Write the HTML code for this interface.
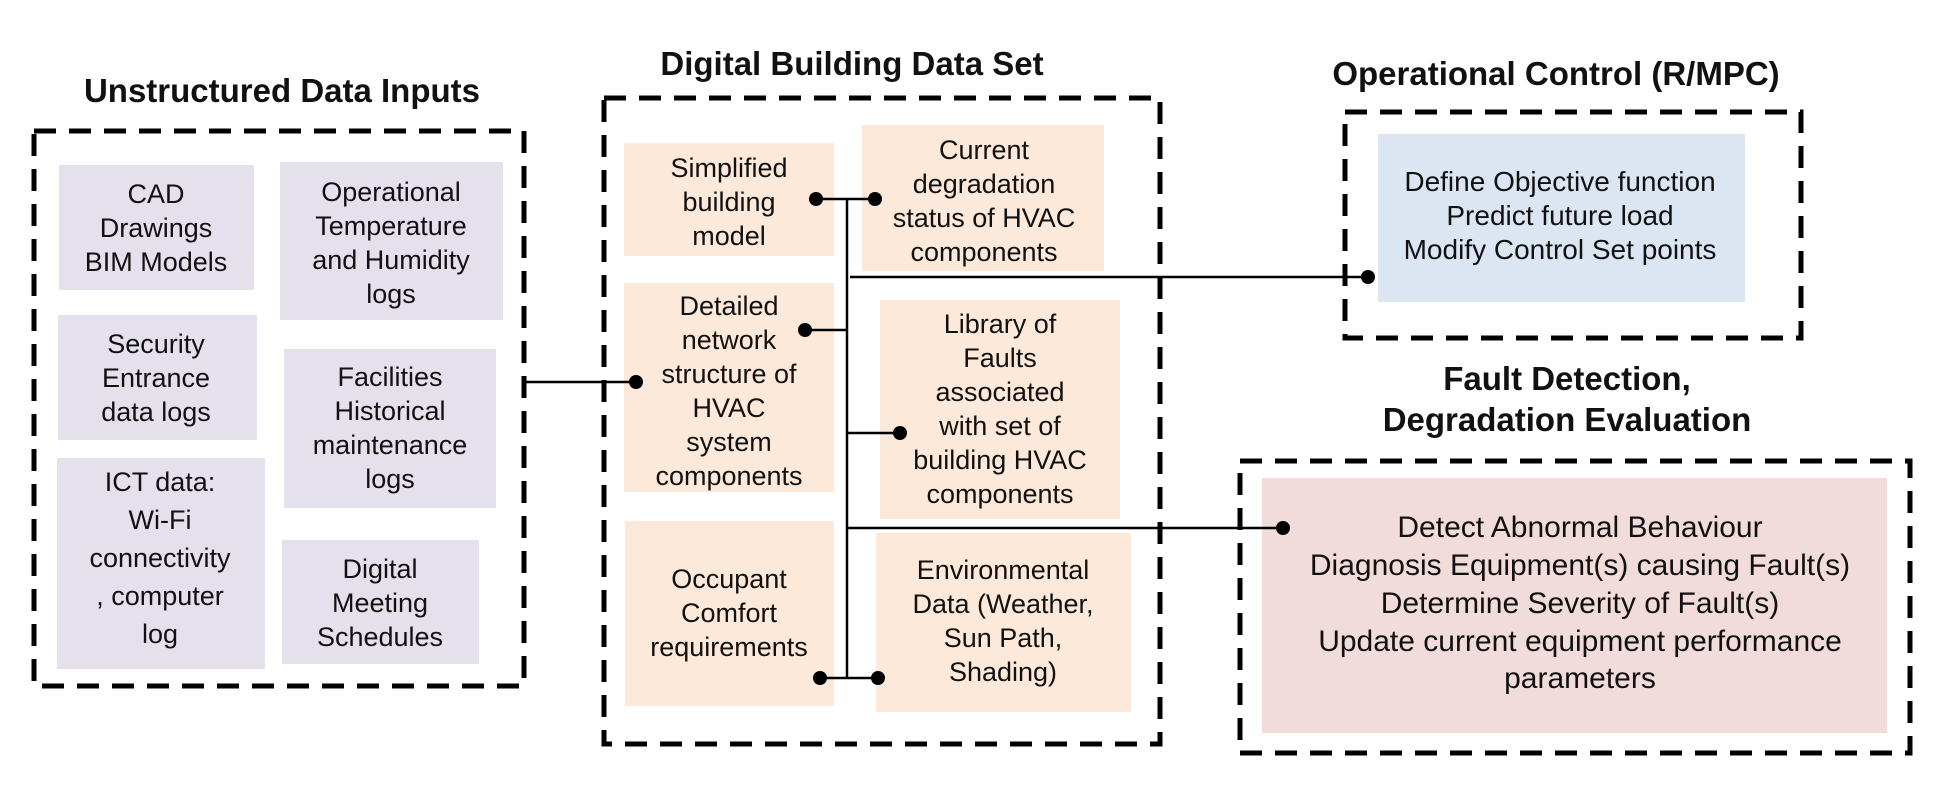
<!DOCTYPE html>
<html><head><meta charset="utf-8"><style>
html,body{margin:0;padding:0;background:#fff;}
svg{display:block;}
text{font-family:"Liberation Sans",Arial,sans-serif;fill:#111;}
.t{font-size:27px;text-anchor:middle;}
.p{font-size:30px;text-anchor:middle;}
.b{font-size:28px;text-anchor:middle;}
.h{font-size:33px;font-weight:bold;text-anchor:middle;}
.d{fill:none;stroke:#000;stroke-width:5;stroke-dasharray:22 13;}
.l{stroke:#000;stroke-width:2.5;}
</style></head><body>
<svg width="1934" height="794" viewBox="0 0 1934 794">
<!-- titles -->
<text class="h" x="282" y="102">Unstructured  Data Inputs</text>
<text class="h" x="852" y="75">Digital Building Data Set</text>
<text class="h" x="1556" y="85">Operational Control (R/MPC)</text>
<text class="h" x="1567" y="390">Fault Detection,</text>
<text class="h" x="1567" y="431">Degradation Evaluation</text>

<!-- dashed containers -->
<rect class="d" x="34" y="131" width="490" height="555"/>
<rect class="d" x="604" y="98" width="556" height="646"/>
<rect class="d" x="1345" y="112" width="456" height="226"/>
<rect class="d" x="1240" y="461" width="670" height="292"/>

<!-- left boxes -->
<g fill="#e4e0ec">
<rect x="59" y="165" width="195" height="125"/>
<rect x="280" y="162" width="223" height="158"/>
<rect x="58" y="315" width="199" height="125"/>
<rect x="284" y="349" width="212" height="159"/>
<rect x="57" y="458" width="208" height="211"/>
<rect x="282" y="540" width="197" height="124"/>
</g>
<text class="t" x="156" y="203">CAD</text><text class="t" x="156" y="237">Drawings</text><text class="t" x="156" y="271">BIM Models</text>
<text class="t" x="391" y="201">Operational</text><text class="t" x="391" y="235">Temperature</text><text class="t" x="391" y="269">and Humidity</text><text class="t" x="391" y="303">logs</text>
<text class="t" x="156" y="353">Security</text><text class="t" x="156" y="387">Entrance</text><text class="t" x="156" y="421">data logs</text>
<text class="t" x="390" y="386">Facilities</text><text class="t" x="390" y="420">Historical</text><text class="t" x="390" y="454">maintenance</text><text class="t" x="390" y="488">logs</text>
<text class="t" x="160" y="491">ICT data:</text><text class="t" x="160" y="529">Wi-Fi</text><text class="t" x="160" y="567">connectivity</text><text class="t" x="160" y="605">, computer</text><text class="t" x="160" y="643">log</text>
<text class="t" x="380" y="578">Digital</text><text class="t" x="380" y="612">Meeting</text><text class="t" x="380" y="646">Schedules</text>

<!-- middle boxes -->
<g fill="#fde9d9">
<rect x="624" y="143" width="210" height="113"/>
<rect x="862" y="125" width="242" height="146"/>
<rect x="624" y="283" width="210" height="209"/>
<rect x="880" y="300" width="240" height="219"/>
<rect x="625" y="521" width="209" height="185"/>
<rect x="876" y="533" width="255" height="179"/>
</g>
<text class="t" x="729" y="177">Simplified</text><text class="t" x="729" y="211">building</text><text class="t" x="729" y="245">model</text>
<text class="t" x="984" y="159">Current</text><text class="t" x="984" y="193">degradation</text><text class="t" x="984" y="227">status of HVAC</text><text class="t" x="984" y="261">components</text>
<text class="t" x="729" y="315">Detailed</text><text class="t" x="729" y="349">network</text><text class="t" x="729" y="383">structure of</text><text class="t" x="729" y="417">HVAC</text><text class="t" x="729" y="451">system</text><text class="t" x="729" y="485">components</text>
<text class="t" x="1000" y="333">Library of</text><text class="t" x="1000" y="367">Faults</text><text class="t" x="1000" y="401">associated</text><text class="t" x="1000" y="435">with set of</text><text class="t" x="1000" y="469">building HVAC</text><text class="t" x="1000" y="503">components</text>
<text class="t" x="729" y="588">Occupant</text><text class="t" x="729" y="622">Comfort</text><text class="t" x="729" y="656">requirements</text>
<text class="t" x="1003" y="579">Environmental</text><text class="t" x="1003" y="613">Data (Weather,</text><text class="t" x="1003" y="647">Sun Path,</text><text class="t" x="1003" y="681">Shading)</text>

<!-- right boxes -->
<rect x="1378" y="134" width="367" height="168" fill="#dce6f2"/>
<text class="b" x="1560" y="191">Define Objective function</text>
<text class="b" x="1560" y="225">Predict future load</text>
<text class="b" x="1560" y="259">Modify Control Set points</text>
<rect x="1262" y="478" width="625" height="255" fill="#f2dcdb"/>
<text class="p" x="1580" y="537">Detect Abnormal  Behaviour</text>
<text class="p" x="1580" y="575">Diagnosis Equipment(s)  causing Fault(s)</text>
<text class="p" x="1580" y="613">Determine Severity of Fault(s)</text>
<text class="p" x="1580" y="651">Update current equipment  performance</text>
<text class="p" x="1580" y="688">parameters</text>

<!-- connectors -->
<line class="l" x1="847" y1="199" x2="847" y2="679"/>
<line class="l" x1="816" y1="199" x2="875" y2="199"/>
<circle cx="816" cy="199" r="7"/><circle cx="875" cy="199" r="7"/>
<line class="l" x1="805" y1="330" x2="847" y2="330"/>
<circle cx="805" cy="330" r="7"/>
<line class="l" x1="847" y1="433" x2="900" y2="433"/>
<circle cx="900" cy="433" r="7"/>
<line class="l" x1="820" y1="678" x2="878" y2="678"/>
<circle cx="820" cy="678" r="7"/><circle cx="878" cy="678" r="7"/>
<line class="l" x1="850" y1="277" x2="1368" y2="277"/>
<circle cx="1368" cy="277" r="7"/>
<line class="l" x1="847" y1="528" x2="1283" y2="528"/>
<circle cx="1283" cy="528" r="7"/>
<line class="l" x1="524" y1="382" x2="636" y2="382"/>
<circle cx="636" cy="382" r="7"/>
</svg>
</body></html>
